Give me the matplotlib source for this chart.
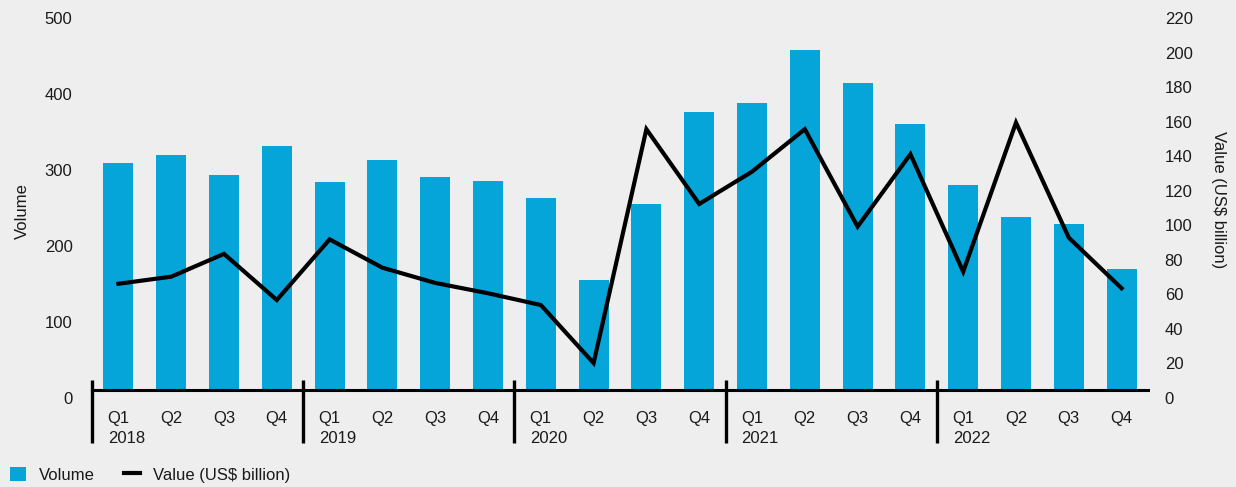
import matplotlib.pyplot as plt
from matplotlib.transforms import ScaledTranslation

years = ['2018', '2019', '2020', '2021', '2022']
quarters = ['Q1', 'Q2', 'Q3', 'Q4']
volume = [299, 309, 283, 321,
          274, 303, 280, 275,
          253, 145, 245, 366,
          378, 447, 404, 350,
          270, 228, 218, 159]
value = [61.5, 65.6, 78.8, 52.1,
         87.2, 70.8, 62, 56,
         49.2, 15.6, 151, 107.7,
         126.4, 151, 94.6, 136.5,
         68.5, 154.8, 88.2, 58.9]

bg = '#eeeeee'
blue = '#05a5d9'
txt = '#1a1a1a'
fs = 12

plt.rcParams['font.family'] = ['Liberation Sans', 'DejaVu Sans']
plt.rcParams['font.size'] = fs

fig = plt.figure(figsize=(12.36, 4.87), dpi=100, facecolor=bg)
ax = fig.add_axes([92/1236, 97/487, (1148-92)/1236, 380/487])
ax.set_facecolor(bg)
ax2 = ax.twinx()

x = list(range(len(volume)))
bars = ax.bar(x, volume, width=0.57, color=blue, zorder=2)
line, = ax2.plot(x, value, color='black', lw=3, solid_joinstyle='miter', zorder=3)

ax.set_xlim(-0.5, 19.5)
ax.set_ylim(0, 500)
ax2.set_ylim(0, 220)
ax.set_yticks(range(0, 501, 100))
ax2.set_yticks(range(0, 221, 20))

for a in (ax, ax2):
    for s in a.spines.values():
        s.set_visible(False)
ax.spines['bottom'].set_visible(True)
ax.spines['bottom'].set_linewidth(2.2)
ax.spines['bottom'].set_color('black')

ax.tick_params(axis='y', length=0, pad=14, colors=txt, labelsize=fs)
ax2.tick_params(axis='y', length=0, pad=12, colors=txt, labelsize=fs)
# labels sit a little under their tick positions
off = ScaledTranslation(0, -8/100, fig.dpi_scale_trans)
for lab in ax.get_yticklabels() + ax2.get_yticklabels():
    lab.set_transform(lab.get_transform() + off)

ax.set_xticks(x)
ax.set_xticklabels(quarters * len(years))
ax.tick_params(axis='x', length=0, pad=15, colors=txt, labelsize=fs)

ax.set_ylabel('Volume', color=txt, fontsize=fs)
ax.yaxis.set_label_coords(-0.059, 0.47)
ax2.set_ylabel('Value (US$ billion)', color=txt, fontsize=fs, rotation=270)
ax2.yaxis.set_label_coords(1.074, 0.5)

# year separators and labels
xt = ax.get_xaxis_transform()
for k, yr in enumerate(years):
    ax.vlines(4*k - 0.5, 0.026, -0.139, transform=xt, color='black', lw=2.4, clip_on=False)
    ax.text(4*k - 0.2, -0.128, yr, transform=xt, ha='left', va='center', color=txt, fontsize=fs)

leg = fig.legend([bars, line], ['Volume', 'Value (US$ billion)'], loc='lower left',
                 bbox_to_anchor=(0.0, -0.012), ncol=2, frameon=False, fontsize=fs,
                 handlelength=0.95, handleheight=0.95, handletextpad=0.8, columnspacing=1.75,
                 borderaxespad=0.2, labelcolor=txt)

fig.savefig('out.png', dpi=100, facecolor=bg)
